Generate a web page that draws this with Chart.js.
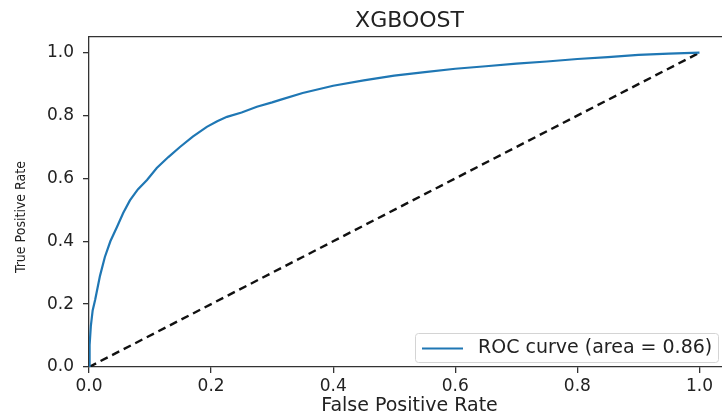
<!DOCTYPE html>
<html>
<head>
<meta charset="utf-8">
<script src="https://cdn.jsdelivr.net/npm/chart.js@4.4.1/dist/chart.umd.min.js"></script>
<style>
  html, body { margin: 0; padding: 0; background: #fff; overflow: hidden; }
  #wrap { width: 722px; height: 417px; overflow: hidden; }
</style>
</head>
<body>
<div id="wrap"><canvas id="rocChart" width="745" height="417"></canvas></div>
<script>
// ROC points for the model (false positive rate / true positive rate)
var fpr = [0, 0.001, 0.003, 0.006, 0.01, 0.018, 0.026, 0.035, 0.046, 0.056, 0.067, 0.08, 0.095, 0.111, 0.13, 0.149, 0.17, 0.193, 0.21, 0.226, 0.25, 0.275, 0.3, 0.313, 0.35, 0.4, 0.45, 0.5, 0.55, 0.6, 0.65, 0.7, 0.75, 0.8, 0.85, 0.9, 0.95, 1.0];
var tpr = [0, 0.07, 0.13, 0.18, 0.213, 0.29, 0.35, 0.40, 0.446, 0.49, 0.53, 0.565, 0.595, 0.633, 0.668, 0.70, 0.733, 0.764, 0.782, 0.796, 0.81, 0.828, 0.842, 0.85, 0.872, 0.895, 0.912, 0.927, 0.938, 0.949, 0.957, 0.965, 0.972, 0.98, 0.986, 0.993, 0.997, 1.0];
// chance line
var diagX = [0, 1];
var diagY = [0, 1];
var rocArea = 0.86;
var tickValues = [0, 0.2, 0.4, 0.6, 0.8, 1.0];

var FONT = "'DejaVu Sans', sans-serif";
var AXIS_COLOR = '#333';

function toPoints(xs, ys) {
    return xs.map(function(x, i){ return { x: x, y: ys[i] }; });
}

// legend box in the lower right corner of the plot
var boxLegend = {
    id: 'boxLegend',
    afterDatasetsDraw: function(chart) {
        var ctx = chart.ctx, area = chart.chartArea;
        var w = 303, h = 29;
        var x0 = area.right - 12 - w, y0 = area.bottom - 5 - h;
        ctx.save();
        ctx.beginPath();
        ctx.roundRect(x0 + 0.5, y0 + 0.5, w, h, 3);
        ctx.fillStyle = 'rgba(255,255,255,0.8)';
        ctx.fill();
        ctx.strokeStyle = '#d4d4d4';
        ctx.lineWidth = 1;
        ctx.stroke();
        var cy = y0 + h / 2 + 1;
        ctx.beginPath();
        ctx.moveTo(x0 + 7, cy);
        ctx.lineTo(x0 + 48, cy);
        ctx.strokeStyle = '#1f77b4';
        ctx.lineWidth = 2;
        ctx.stroke();
        ctx.fillStyle = '#222';
        ctx.font = "19px " + FONT;
        ctx.textBaseline = 'middle';
        ctx.fillText(chart.data.datasets[0].label, x0 + 63, cy);
        ctx.restore();
    }
};

// y axis label, narrow face
var yLabel = {
    id: 'yLabel',
    afterDraw: function(chart) {
        var ctx = chart.ctx;
        ctx.save();
        ctx.translate(21, 217);
        ctx.rotate(-Math.PI / 2);
        ctx.fillStyle = '#222';
        ctx.font = "14px 'Liberation Sans Narrow', 'DejaVu Sans Condensed', sans-serif";
        ctx.textAlign = 'center';
        ctx.textBaseline = 'middle';
        ctx.fillText('True Positive Rate', 0, 0);
        ctx.restore();
    }
};

var ctx_roc = document.getElementById('rocChart').getContext('2d');
var rocChart = new Chart(ctx_roc, {
    type: 'line',
    data: {
        datasets: [{
            label: 'ROC curve (area = ' + rocArea.toFixed(2) + ')',
            data: toPoints(fpr, tpr),
            borderColor: '#1f77b4',
            borderWidth: 2.2,
            pointRadius: 0,
            tension: 0,
            fill: false
        }, {
            label: 'chance',
            data: toPoints(diagX, diagY),
            borderColor: '#111',
            borderWidth: 2.4,
            borderDash: [8, 5],
            pointRadius: 0,
            fill: false
        }]
    },
    options: {
        responsive: false,
        animation: false,
        layout: { padding: { left: 0, right: 15, top: 0, bottom: 0 } },
        plugins: {
            legend: { display: false },
            tooltip: { enabled: false }
        },
        scales: {
            x: {
                type: 'linear',
                position: 'bottom',
                min: 0,
                max: 1.05,
                afterFit: function(scale){ scale.height = 50; },
                afterBuildTicks: function(scale){
                    scale.ticks = tickValues.map(function(v){ return { value: v }; });
                },
                ticks: {
                    color: '#222',
                    padding: 3,
                    maxRotation: 0,
                    font: { family: FONT, size: 17 },
                    callback: function(v){ return v.toFixed(1); }
                },
                grid: { drawOnChartArea: false, drawTicks: true, tickLength: 6, color: AXIS_COLOR, lineWidth: 1.3 },
                border: { display: true, color: AXIS_COLOR, width: 1.3 },
                title: {
                    display: true,
                    text: 'False Positive Rate',
                    color: '#222',
                    font: { family: FONT, size: 19 },
                    padding: { top: 0, bottom: 0 }
                }
            },
            x2: {
                type: 'linear',
                position: 'top',
                min: 0,
                max: 1.05,
                afterFit: function(scale){ scale.height = 37; },
                ticks: { display: false },
                grid: { display: false, drawTicks: false },
                border: { display: true, color: AXIS_COLOR, width: 1.3 },
                title: {
                    display: true,
                    text: 'XGBOOST',
                    color: '#222',
                    font: { family: FONT, size: 22 },
                    padding: { top: 8, bottom: 3 }
                }
            },
            y: {
                type: 'linear',
                min: 0,
                max: 1.05,
                afterFit: function(scale){ scale.width = 89; },
                afterBuildTicks: function(scale){
                    scale.ticks = tickValues.map(function(v){ return { value: v }; });
                },
                ticks: {
                    color: '#222',
                    padding: 9,
                    font: { family: FONT, size: 17 },
                    callback: function(v){ return v.toFixed(1); }
                },
                grid: { drawOnChartArea: false, drawTicks: true, tickLength: 6, color: AXIS_COLOR, lineWidth: 1.3 },
                border: { display: true, color: AXIS_COLOR, width: 1.3 }
            }
        }
    },
    plugins: [boxLegend, yLabel]
});
</script>
</body>
</html>
